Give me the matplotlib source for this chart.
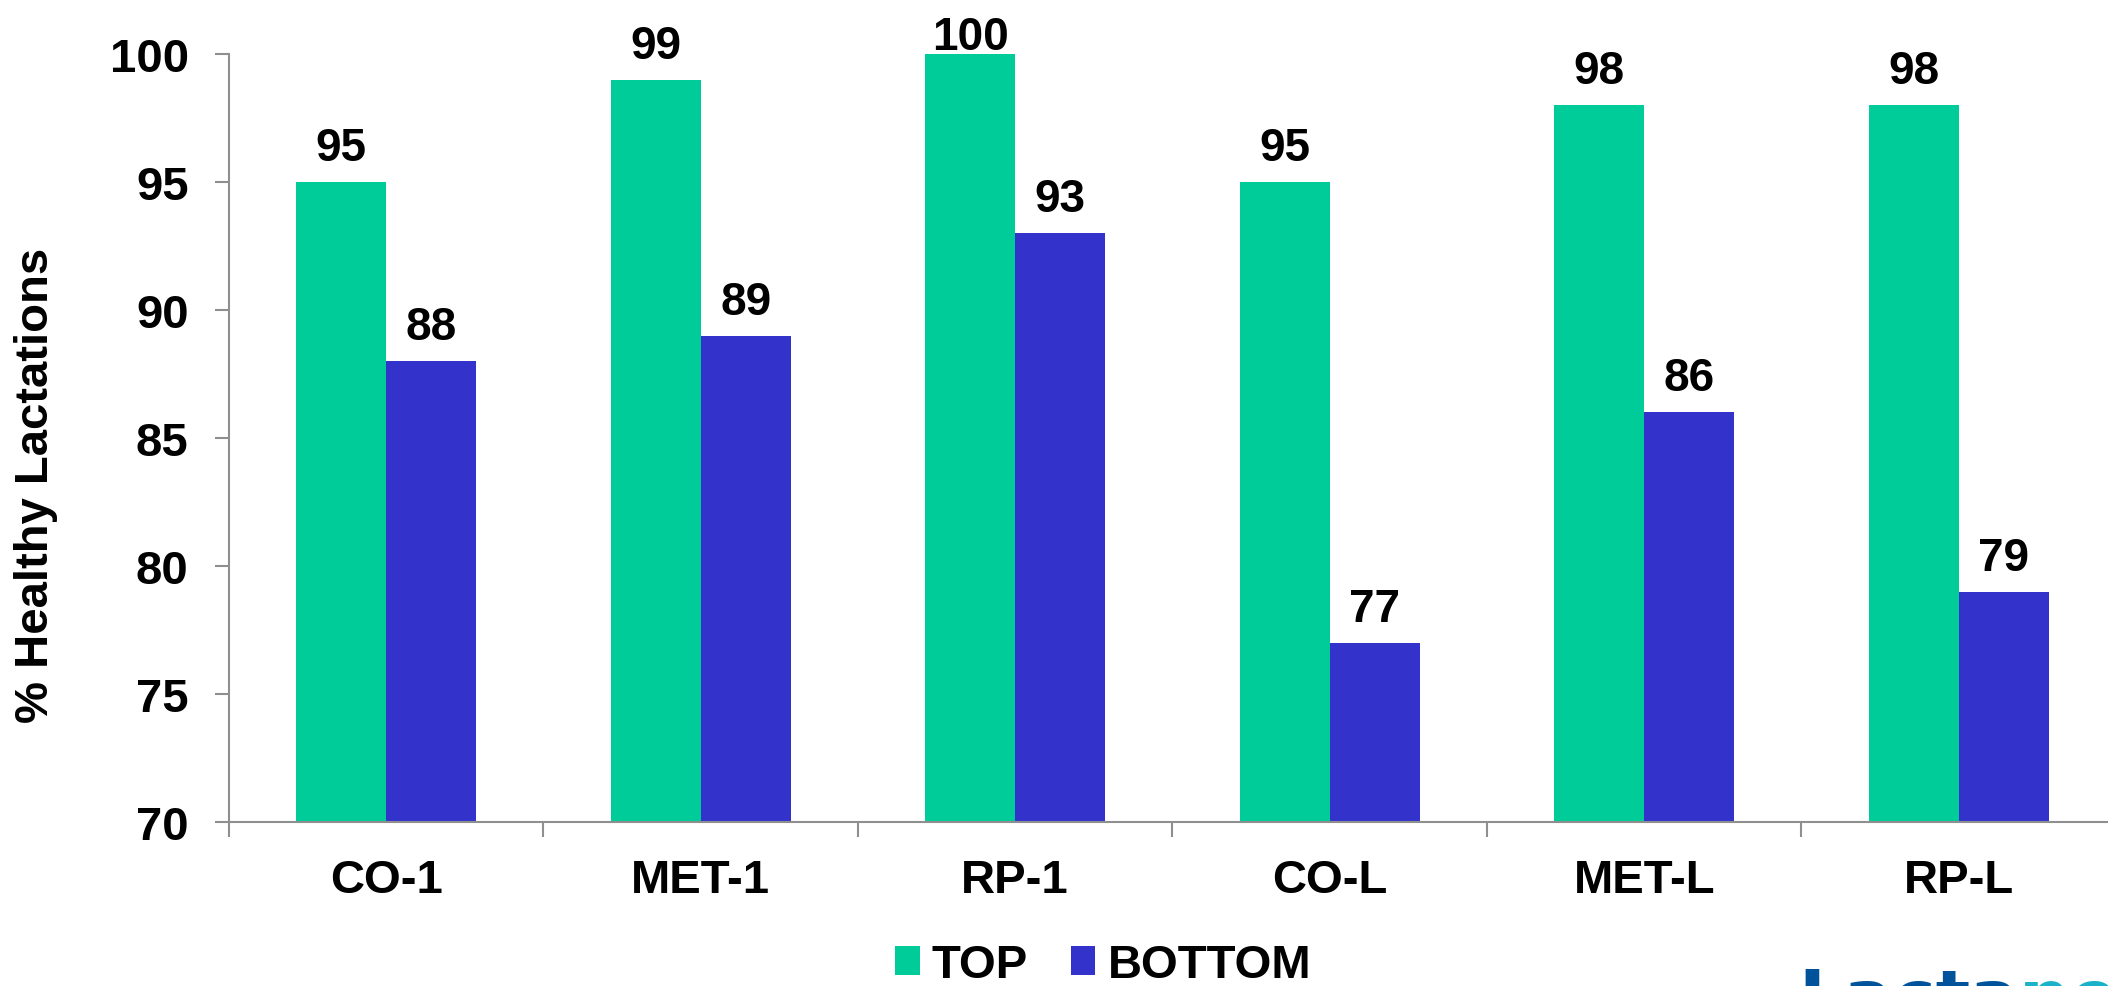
import matplotlib
matplotlib.use("Agg")
import matplotlib.pyplot as plt
import numpy as np
from matplotlib.patches import Patch
from matplotlib.ticker import FixedLocator

plt.rcParams["font.family"] = ["Liberation Sans", "DejaVu Sans"]
plt.rcParams["font.weight"] = "bold"

categories = ["CO-1", "MET-1", "RP-1", "CO-L", "MET-L", "RP-L"]
top_values = [95, 99, 100, 95, 98, 98]
bottom_values = [88, 89, 93, 77, 86, 79]
series_names = ["TOP", "BOTTOM"]
y_ticks = [70, 75, 80, 85, 90, 95, 100]

TOP_COLOR = "#00CC99"
BOTTOM_COLOR = "#3333CC"
AXIS_GRAY = "#8F8F8F"
FS = 33
TICK_FS = 34
Y_MIN, Y_MAX = 70, 100

W, H = 2108, 987
fig = plt.figure(figsize=(W / 100, H / 100), dpi=100)
ax = fig.add_axes([229 / W, 1 - 823 / H, 1887 / W, (823 - 55) / H])

x = np.arange(len(categories))
bw = 0.286
bars_top = ax.bar(x - bw / 2, top_values, bw, color=TOP_COLOR, zorder=2)
bars_bot = ax.bar(x + bw / 2, bottom_values, bw, color=BOTTOM_COLOR, zorder=2)

for bars, vals in ((bars_top, top_values), (bars_bot, bottom_values)):
    for b, v in zip(bars, vals):
        # labels on bars that reach the top of the scale sit tighter
        lift = 3.6 if v >= Y_MAX else 15.8
        ax.annotate(f"{v}", xy=(b.get_x() + b.get_width() / 2, v),
                    xytext=(0, lift), textcoords="offset points",
                    ha="center", va="baseline", fontsize=FS,
                    fontweight="bold", annotation_clip=False)

ax.set_xlim(-0.5, len(categories) - 0.5)
ax.set_ylim(Y_MIN, Y_MAX)
ax.set_yticks(y_ticks)
ax.set_yticklabels([str(t) for t in y_ticks], fontsize=TICK_FS, fontweight="bold")
ax.set_xticks(x)
ax.set_xticklabels(categories, fontsize=TICK_FS, fontweight="bold")
ax.xaxis.set_minor_locator(FixedLocator(np.arange(-0.5, len(categories), 1.0)))

ax.tick_params(axis="x", which="major", length=0, pad=26)
ax.tick_params(axis="x", which="minor", length=11, width=1.5,
               color=AXIS_GRAY, direction="out")
ax.tick_params(axis="y", which="major", length=10, width=1.5,
               color=AXIS_GRAY, direction="out", pad=19)

for side in ("top", "right"):
    ax.spines[side].set_visible(False)
for side in ("left", "bottom"):
    ax.spines[side].set_color(AXIS_GRAY)
    ax.spines[side].set_linewidth(1.5)

fig.text(36 / W, 1 - 485 / H, "% Healthy Lactations", rotation=90,
         ha="center", va="center", fontsize=34, fontweight="bold")

handles = [Patch(facecolor=TOP_COLOR, edgecolor="none"),
           Patch(facecolor=BOTTOM_COLOR, edgecolor="none")]
fig.legend(handles, series_names, loc="center",
           bbox_to_anchor=(1103 / W, 1 - 966 / H), ncol=2, frameon=False,
           prop={"size": 34, "weight": "bold"}, handlelength=0.52,
           handleheight=0.55, handletextpad=0.26, columnspacing=0.9,
           borderpad=0, borderaxespad=0)

# brand mark along the lower edge
brand = fig.text(1798 / W, -34 / H, "Lacta", color="#00539B", fontsize=52,
                 fontweight="bold", family="DejaVu Sans",
                 ha="left", va="baseline")
brand_tail = fig.text(0, -34 / H, "net", color="#19B2C9", fontsize=52,
                      fontweight="bold", family="DejaVu Sans",
                      ha="left", va="baseline")
fig.canvas.draw()
bb = brand.get_window_extent()
brand_tail.set_position((bb.x1 / W, -34 / H))

fig.savefig("out.png", dpi=100)
